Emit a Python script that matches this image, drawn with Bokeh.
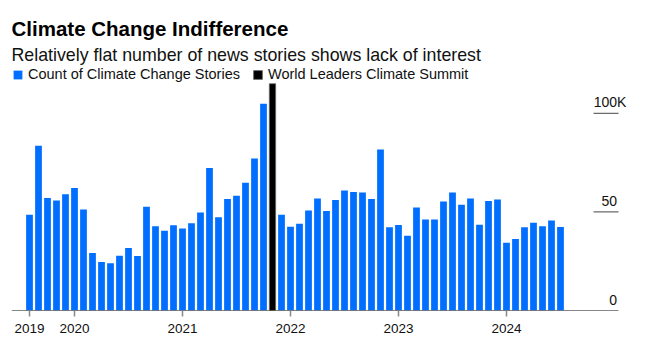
import pandas as pd
from bokeh.plotting import figure
from bokeh.models import (ColumnDataSource, Range1d, LinearAxis, FixedTicker,
                          Legend, LegendItem, Label)
from bokeh.core.properties import value
from bokeh.embed import file_html
from bokeh.resources import INLINE

# ---------------- data ----------------
months = [str(p) for p in pd.period_range("2019-08", "2024-07", freq="M")]

stories = [
    # 2019 Aug-Dec
    48.5, 83.6, 57.0, 55.8, 58.9,
    # 2020
    62.1, 51.2, 29.2, 24.6, 23.9, 27.8, 31.7, 27.6, 52.6, 42.7, 40.4, 43.2,
    # 2021 (Nov = summit month)
    41.6, 44.2, 49.7, 72.2, 47.3, 56.5, 58.2, 64.8, 77.1, 104.8, None, 48.6,
    # 2022
    42.5, 44.0, 50.7, 56.8, 50.5, 56.0, 60.9, 60.1, 59.9, 56.5, 81.6, 42.2,
    # 2023
    43.3, 37.9, 52.2, 46.1, 46.1, 55.3, 59.9, 53.6, 56.8, 43.5, 55.5, 56.3,
    # 2024 Jan-Jul
    34.3, 36.2, 42.2, 44.5, 42.7, 45.6, 42.3,
]

summit_months = ["2021-11"]
summit_values = [115.0]

year_tick_months = ["2019-08", "2020-01", "2021-01", "2022-01", "2023-01", "2024-01"]
year_tick_labels = ["2019", "2020", "2021", "2022", "2023", "2024"]

y_tick_values = [0, 50, 100]
y_tick_labels = ["0", "50", "100"]
y_unit_suffix = "K"

# ---------------- layout helpers ----------------
BLUE = "#006EFF"
FONT = "Liberation Sans"
W, H = 648, 350
LEFT, RIGHT, TOP, BOTTOM = 11, 0, 0, 40
PX_PER_MONTH = 9.0
PX_PER_K = 1.972
X0_PX = 29.0  # pixel of first month center
AXIS_END_PX = 618

frame_w = W - LEFT - RIGHT
frame_h = H - TOP - BOTTOM
x_start = (LEFT - X0_PX) / PX_PER_MONTH
x_end = x_start + frame_w / PX_PER_MONTH
y_end = frame_h / PX_PER_K


def px_x(px):
    return x_start + (px - LEFT) / PX_PER_MONTH


def px_y(py):
    return (H - BOTTOM - py) / PX_PER_K


axis_end = px_x(AXIS_END_PX)
label_end = px_x(AXIS_END_PX - 1.5)

idx = {m: i for i, m in enumerate(months)}
bar_x = [idx[m] for m, v in zip(months, stories) if v is not None]
bar_top = [v for v in stories if v is not None]
src = ColumnDataSource(dict(x=bar_x, top=bar_top))
summit_src = ColumnDataSource(dict(x=[idx[m] for m in summit_months], top=summit_values))

p = figure(width=W, height=H, output_backend="svg", toolbar_location=None,
           x_range=Range1d(x_start, x_end), y_range=Range1d(0, y_end),
           min_border_left=LEFT, min_border_right=RIGHT,
           min_border_top=TOP, min_border_bottom=BOTTOM,
           x_axis_location=None, y_axis_location=None)
p.outline_line_color = None
p.xgrid.visible = False
p.ygrid.visible = False
p.background_fill_color = "white"
p.border_fill_color = "white"

r_blue = p.vbar(x="x", top="top", bottom=0, width=0.75, source=src,
                fill_color=BLUE, line_color=None)
r_black = p.vbar(x="x", top="top", bottom=0, width=0.7, source=summit_src,
                 fill_color="black", line_color="#666666", line_width=0.8)

# x axis (line drawn separately so it stops at the value labels)
xaxis = LinearAxis(ticker=FixedTicker(ticks=[idx[m] for m in year_tick_months]),
                   major_label_overrides={idx[m]: l for m, l in zip(year_tick_months, year_tick_labels)})
xaxis.axis_line_color = None
xaxis.major_tick_line_color = "#888888"
xaxis.major_tick_line_width = 1.5
xaxis.major_tick_out = 6
xaxis.major_tick_in = 0
xaxis.minor_tick_line_color = None
xaxis.major_label_text_font = FONT
xaxis.major_label_text_font_size = "13.5px"
xaxis.major_label_text_color = "#111111"
xaxis.major_label_standoff = 7
p.add_layout(xaxis, "below")

# baseline
p.segment(x0=[x_start], y0=[0], x1=[axis_end], y1=[0], line_color="#111111", line_width=1.2)

# right-side value labels with short rules
rule_x0 = px_x(593)
rule_vals = [v for v in y_tick_values if v > 0]
p.segment(x0=[rule_x0] * len(rule_vals), y0=rule_vals,
          x1=[axis_end] * len(rule_vals), y1=rule_vals,
          line_color="#444444", line_width=1)
p.text(x=[label_end] * len(y_tick_values), y=y_tick_values, text=y_tick_labels,
       text_align="right", text_baseline="alphabetic", y_offset=-11,
       text_font=value(FONT), text_font_size="14px", text_color="#111111")
p.text(x=[label_end], y=[y_tick_values[-1]], text=[y_unit_suffix],
       text_align="left", text_baseline="alphabetic", y_offset=-11,
       text_font=value(FONT), text_font_size="14px", text_color="#111111")

# title & subtitle
p.add_layout(Label(x=px_x(11), y=px_y(28.3), text="Climate Change Indifference",
                   text_font=FONT, text_font_size="20.5px", text_font_style="bold",
                   text_color="black", text_baseline="alphabetic"))
p.add_layout(Label(x=px_x(11), y=px_y(54), text="Relatively flat number of news stories shows lack of interest",
                   text_font=FONT, text_font_size="17.8px",
                   text_color="#111111", text_baseline="alphabetic"))

legend = Legend(items=[LegendItem(label="Count of Climate Change Stories", renderers=[r_blue]),
                       LegendItem(label="World Leaders Climate Summit", renderers=[r_black])],
                orientation="horizontal", location=(1, 228),
                glyph_width=11, glyph_height=11, label_standoff=5, spacing=12,
                padding=0, margin=0, border_line_color=None,
                background_fill_alpha=0,
                label_text_font=FONT, label_text_font_size="14.5px",
                label_text_color="#111111", label_height=11)
p.add_layout(legend, "center")

open("out.html", "w").write(file_html(p, INLINE))
